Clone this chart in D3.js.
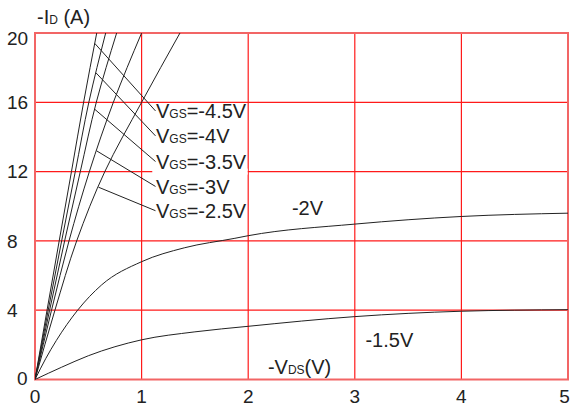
<!DOCTYPE html>
<html><head><meta charset="utf-8">
<script src="https://cdn.jsdelivr.net/npm/d3@7"></script>
<style>
body{margin:0;background:#fff}
svg{display:block}
text{font-family:"Liberation Sans",Arial,Helvetica,sans-serif;fill:#222}
</style>
</head><body>
<svg id="c" width="571" height="410"></svg>
<script>
// ---- data ----
const xTicks = [0, 1, 2, 3, 4, 5];
const yTicks = [0, 4, 8, 12, 16, 20];

// steep (linear-region) curves: -VDS read at fixed -ID levels
const steepId   = [0, 4, 8, 12, 16, 20];
const vdsVgs45  = [0, 0.113, 0.227, 0.342, 0.456, 0.579];
const vdsVgs40  = [0, 0.124, 0.250, 0.378, 0.505, 0.663];
const vdsVgs35  = [0, 0.137, 0.278, 0.425, 0.575, 0.766];
const vdsVgs30  = [0, 0.155, 0.319, 0.510, 0.735, 1.000];
const vdsVgs25  = [0, 0.187, 0.391, 0.655, 1.000, 1.360];
const steepNames = ["-4.5V", "-4V", "-3.5V", "-3V", "-2.5V"];
const leaderId   = [19.4, 17.7, 15.6, 13.2, 11.1];
const labelId    = [15.07, 13.63, 12.15, 10.71, 9.31];

// saturating curves: -ID read at fixed -VDS levels
const vdsA    = [0, 0.1, 0.2, 0.4, 0.625, 1, 1.4, 1.875, 2, 3, 4, 5];
const idVgs20 = [0, 1.2, 2.25, 4.0, 5.46, 6.8, 7.6, 8.15, 8.3, 8.97, 9.41, 9.6];
const vdsB    = [0, 0.25, 0.5, 1, 1.5, 2, 3, 4, 5];
const idVgs15 = [0, 0.71, 1.37, 2.29, 2.75, 3.07, 3.63, 3.94, 4.03];

// ---- layout ----
const W = 571;
const svg = d3.select("#c");
const L = 35, R = 568, T = 33, B = 379.5;
const x = d3.scaleLinear().domain([0, 5]).range([L, R]);
const y = d3.scaleLinear().domain([0, 20]).range([B, T]);

// grid
const grid = svg.append("g").attr("stroke", "#ff1a1a").attr("stroke-width", 1.2);
grid.selectAll("line.v").data(xTicks.slice(1, -1)).join("line")
  .attr("x1", d => x(d)).attr("x2", d => x(d)).attr("y1", T).attr("y2", B);
grid.selectAll("line.h").data(yTicks.slice(1, -1)).join("line")
  .attr("x1", L).attr("x2", R).attr("y1", d => y(d)).attr("y2", d => y(d));
// gap in grid behind label block
svg.append("rect").attr("x", x(1.1)).attr("width", x(1.995) - x(1.1))
  .attr("y", y(12) - 3).attr("height", 6).attr("fill", "#fff");

// frame
svg.append("rect").attr("x", L).attr("y", T).attr("width", R - L).attr("height", B - T)
  .attr("fill", "none").attr("stroke", "#f26565").attr("stroke-width", 2);

// curves
svg.append("clipPath").attr("id", "pc").append("rect")
  .attr("x", L).attr("y", T).attr("width", R - L).attr("height", B - T);
const curves = svg.append("g").attr("clip-path", "url(#pc)")
  .attr("fill", "none").attr("stroke", "#222").attr("stroke-width", 1);

const steepSeries = [vdsVgs45, vdsVgs40, vdsVgs35, vdsVgs30, vdsVgs25];
const lineY = d3.line().x(d => x(d[0])).y(d => y(d[1])).curve(d3.curveMonotoneY);
steepSeries.forEach(s => {
  curves.append("path").attr("d", lineY(s.map((v, i) => [v, steepId[i]])));
});
const lineX = d3.line().x(d => x(d[0])).y(d => y(d[1])).curve(d3.curveMonotoneX);
curves.append("path").attr("d", lineX(vdsA.map((v, i) => [v, idVgs20[i]])));
curves.append("path").attr("d", lineX(vdsB.map((v, i) => [v, idVgs15[i]])));

// VGS labels with leader lines
const lblX = 1.135;
steepSeries.forEach((s, k) => {
  const vAt = d3.scaleLinear().domain(steepId).range(s)(leaderId[k]);
  const by = y(labelId[k]);
  svg.append("line").attr("stroke", "#222").attr("stroke-width", 1)
    .attr("x1", x(vAt)).attr("y1", y(leaderId[k]))
    .attr("x2", x(lblX) - 0.5).attr("y2", by - 7.5);
  const t = svg.append("text").attr("x", x(lblX)).attr("y", by).attr("font-size", 20);
  t.append("tspan").text("V");
  t.append("tspan").attr("font-size", 12).text("GS");
  t.append("tspan").text("=" + steepNames[k]);
});

// curve labels
svg.append("text").attr("x", x(2.41)).attr("y", y(9.5)).attr("font-size", 20).text("-2V");
svg.append("text").attr("x", x(3.1)).attr("y", y(1.88)).attr("font-size", 20).text("-1.5V");

// axis titles
const xt = svg.append("text").attr("x", x(2.185)).attr("y", y(0.32)).attr("font-size", 20);
xt.append("tspan").text("-V");
xt.append("tspan").attr("font-size", 12).text("DS");
xt.append("tspan").text("(V)");
const yt = svg.append("text").attr("x", 37).attr("y", 24).attr("font-size", 20);
yt.append("tspan").text("-I");
yt.append("tspan").attr("font-size", 12).text("D");
yt.append("tspan").text(" (A)");

// tick labels
svg.append("g").selectAll("text").data(xTicks).join("text")
  .attr("x", d => Math.min(x(d), W - 6.5)).attr("y", B + 23).attr("text-anchor", "middle")
  .attr("font-size", 19).text(d => d);
svg.append("g").selectAll("text").data(yTicks).join("text")
  .attr("x", d => d === 0 ? 17 : 7)
  .attr("y", d => Math.min(Math.max(y(d), T + 5.5), B - 1.5))
  .attr("dy", "0.36em").attr("font-size", 19).text(d => d);
</script>
</body></html>
